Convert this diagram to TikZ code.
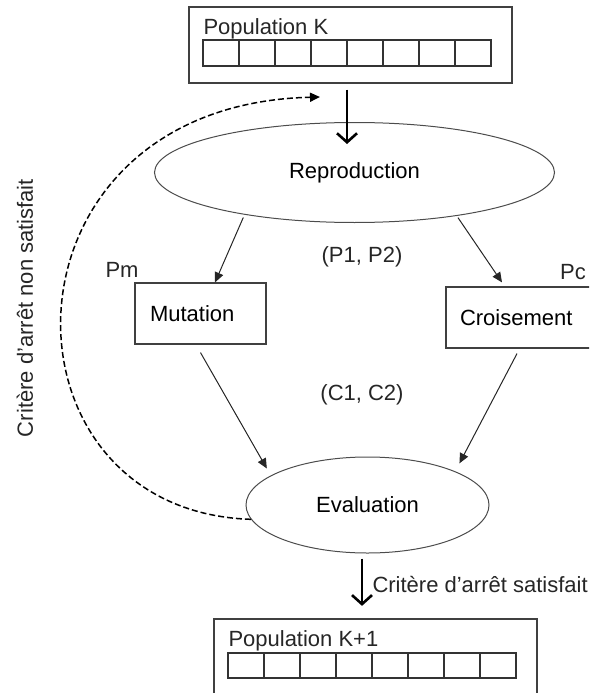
\documentclass[tikz,border=0pt]{standalone}
\usepackage{fontspec}
\setmainfont{Liberation Sans}
\usetikzlibrary{arrows.meta,shapes.geometric}
\tikzset{
  every picture/.style={line width=1pt},
  popbox/.style={draw=black!75, line width=1.3pt, minimum width=323pt, inner sep=0pt},
  cell/.style={draw=black!80, line width=1.2pt},
  opbox/.style={draw=black!75, line width=1.2pt, minimum height=61pt, inner xsep=14pt, align=left},
  opellipse/.style={ellipse, draw=black!70, line width=1pt, inner sep=0pt},
  lbl/.style={text=black!85, inner sep=0pt},
  flow/.style={draw=black!85, line width=1pt, -{Triangle[length=10pt,width=9pt]}},
  mainflow/.style={line width=2.6pt, -{Straight Barb[length=9pt,width=20pt]}},
  loopback/.style={line width=1.5pt, dash pattern=on 6pt off 3pt,
                   -{Triangle[length=10pt,width=9pt]}},
}

\begin{document}
\begin{tikzpicture}[x=1pt, y=-1pt, font=\fontsize{22}{26}\selectfont]
  \useasboundingbox (0,0) rectangle (589,693);
  \clip (0,0) rectangle (589,693);
  % population K
  \node[popbox, minimum height=76pt] (popK) at (350.5,45) {};
  \node[lbl, anchor=base west] (popKtxt) at (203,35) {Population K};
  \foreach \i in {0,...,7}
    \draw[cell] (203+36*\i,40) rectangle ++(36,26);
  % operators
  \node[opellipse, minimum width=400pt, minimum height=100pt] (repro)
        at (354.5,172.5) {Reproduction};
  \node[opbox, text width=101pt, inner xsep=15pt] (mut) at (200.5,313.5) {Mutation};
  \node[opbox, text width=124pt] (crois) at (522,317.5) {Croisement};
  \node[opellipse, minimum width=243pt, minimum height=96pt] (eval)
        at (367.5,505) {Evaluation};
  % population K+1 (runs off the lower edge)
  \node[popbox, minimum height=78pt] (popK1) at (375.5,658) {};
  \node[lbl, anchor=base west] (popK1txt) at (228,646) {Population K+1};
  \foreach \i in {0,...,7}
    \draw[cell] (228+36*\i,653) rectangle ++(36,25);
  % labels
  \node[lbl] (pm) at (122,270) {Pm};
  \node[lbl] (pc) at (573,272) {Pc};
  \node[lbl] (parents) at (362,257) {(P1, P2)};
  \node[lbl] (children) at (362,395) {(C1, C2)};
  \node[lbl, anchor=west] (okstop) at (372,585) {Critère d’arrêt satisfait};
  \node[lbl, rotate=90] (nostop) at (25,308) {Critère d'arrêt non satisfait};
  \coordinate (reentry) at (320,97);
  % connectors
  \draw[mainflow] ([xshift=-3.5pt,yshift=-6pt]popK.south)
        -- ([xshift=-7.5pt,yshift=-22pt]repro.north);
  \draw[flow, shorten <=3pt] (repro.201) -- ([xshift=14.5pt]mut.north);
  \draw[flow, shorten <=2pt] (repro.337) -- ([xshift=-20pt,yshift=4pt]crois.north);
  \draw[flow, shorten >=8pt] ([yshift=-8pt]mut.south) -- (eval.163);
  \draw[flow, shorten >=9pt] ([xshift=-5pt,yshift=-5pt]crois.south) -- (eval.21);
  \draw[mainflow] ([xshift=-5.5pt,yshift=-5pt]eval.south)
        -- ([xshift=-13.5pt,yshift=12.5pt]popK1.north);
  \draw[loopback] (eval.187) .. controls (-12,511) and (-12,105) .. (reentry);
\end{tikzpicture}
\end{document}
